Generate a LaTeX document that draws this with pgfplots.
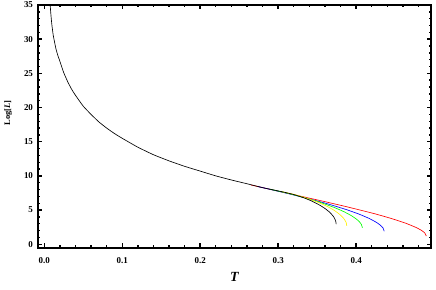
\documentclass[border=0pt]{standalone}
\usepackage{fontspec}
\setmainfont{Liberation Serif}
\usepackage{pgfplots}
\usepackage{pgfplotstable}
\pgfplotsset{compat=1.18}
\pgfplotstableread{
T y
0.0072 35.8
0.0080 34.4
0.0090 33.0
0.0100 31.9
0.0115 30.6
0.0130 29.7
0.0150 28.6
0.0175 27.6
0.0200 26.8
0.0250 25.1
0.0300 23.8
0.0350 22.7
0.0400 21.8
0.0500 20.2
0.0600 19.0
0.0700 17.9
0.0800 17.0
0.0900 16.2
0.1000 15.5
0.1200 14.2
0.1400 13.1
0.1600 12.2
0.1800 11.4
0.2000 10.7
0.2200 10.0
0.2400 9.4
0.2600 8.85
0.2800 8.28
0.3000 7.80
0.3050 7.68
0.3189 7.31
0.3328 6.80
0.3432 6.31
0.3536 5.70
0.3605 5.19
0.3661 4.68
0.3702 4.16
0.3723 3.79
0.3737 3.43
0.3744 2.95
}\blackdata
\pgfplotstableread{
T y
0.3050 7.68
0.3216 7.25
0.3382 6.68
0.3507 6.16
0.3631 5.52
0.3714 4.99
0.3780 4.45
0.3830 3.92
0.3855 3.54
0.3872 3.18
0.3880 2.70
}\yellowdata
\pgfplotstableread{
T y
0.2890 8.06
0.3128 7.44
0.3366 6.72
0.3545 6.10
0.3723 5.36
0.3842 4.77
0.3937 4.19
0.4009 3.63
0.4044 3.25
0.4068 2.88
0.4080 2.40
}\greendata
\pgfplotstableread{
T y
0.2740 8.44
0.3064 7.58
0.3388 6.67
0.3631 5.92
0.3874 5.07
0.4036 4.41
0.4166 3.78
0.4263 3.18
0.4311 2.78
0.4344 2.39
0.4360 1.90
}\bluedata
\pgfplotstableread{
T y
0.2650 8.67
0.3100 7.51
0.3550 6.36
0.3888 5.46
0.4225 4.50
0.4450 3.77
0.4630 3.10
0.4765 2.47
0.4833 2.06
0.4878 1.68
0.4900 1.20
}\reddata
\begin{document}
\begin{tikzpicture}
\useasboundingbox (-38bp,-42bp) rectangle (398bp,248bp);
\begin{axis}[
  scale only axis,
  width=393bp, height=243bp,
  xmin=-0.008, xmax=0.496,
  ymin=-0.55, ymax=35,
  axis line style={line width=1.8pt},
  tick style={line width=1.4pt, black},
  major tick length=4.5bp,
  minor tick length=2.5bp,
  tick align=inside,
  xtick={0,0.1,0.2,0.3,0.4},
  minor xtick={0.02,0.04,0.06,0.08,0.12,0.14,0.16,0.18,0.22,0.24,0.26,0.28,0.32,0.34,0.36,0.38,0.42,0.44,0.46,0.48},
  ytick={0,5,10,15,20,25,30,35},
  minor ytick={1,2,3,4,6,7,8,9,11,12,13,14,16,17,18,19,21,22,23,24,26,27,28,29,31,32,33,34},
  /pgf/number format/assume math mode=true,
  xticklabel style={font=\fontsize{9}{10}\selectfont\bfseries, yshift=-6.5bp,
    /pgf/number format/.cd, fixed, fixed zerofill, precision=1},
  yticklabel style={font=\fontsize{9}{10}\selectfont\bfseries, xshift=-1.5bp},
  xlabel={\textbf{\textit{T}}},
  xlabel style={font=\fontsize{14}{16}\selectfont, at={(axis description cs:0.5,-0.119)}, anchor=center},
  ylabel={\textbf{Log[\textit{L}]}},
  ylabel style={font=\fontsize{8.5}{10}\selectfont, at={(axis description cs:-0.0763,0.555)}, anchor=center},
]
\addplot[red, line width=0.65pt, smooth, tension=0.3] table[x=T,y=y] {\reddata};
\addplot[blue, line width=0.65pt, smooth, tension=0.3] table[x=T,y=y] {\bluedata};
\addplot[green, line width=0.65pt, smooth, tension=0.3] table[x=T,y=y] {\greendata};
\addplot[yellow, line width=0.65pt, smooth, tension=0.3] table[x=T,y=y] {\yellowdata};
\addplot[black, line width=0.65pt, smooth, tension=0.3] table[x=T,y=y] {\blackdata};
\end{axis}
\end{tikzpicture}
\end{document}
